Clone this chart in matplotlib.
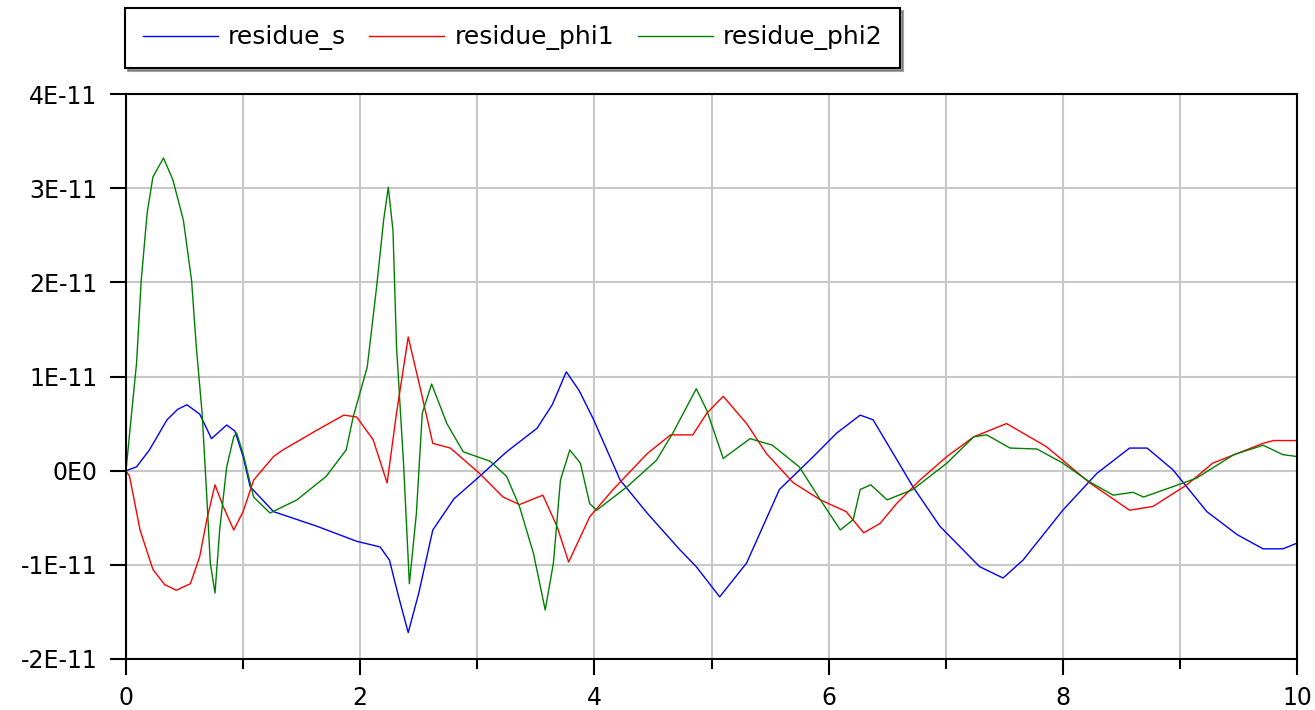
import numpy as np
import matplotlib
matplotlib.use("Agg")
import matplotlib.pyplot as plt

plt.rcParams['font.family'] = ['DejaVu Sans']

# residue_s (values in units of 1E-11)
t_s = [0, 0.09, 0.20, 0.35, 0.44, 0.52, 0.63, 0.73, 0.86, 0.93, 1.0, 1.06, 1.26, 1.63, 1.97,
       2.17, 2.25, 2.32, 2.41, 2.50, 2.62, 2.80, 3.02, 3.25, 3.51, 3.64, 3.76, 3.87, 3.99,
       4.22, 4.45, 4.73, 4.87, 5.07, 5.30, 5.58, 5.87, 6.07, 6.27, 6.38, 6.72, 6.95, 7.29,
       7.49, 7.66, 8.0, 8.29, 8.57, 8.72, 8.94, 9.23, 9.49, 9.71, 9.88, 10.0]
res_s = [0, 0.04, 0.22, 0.54, 0.65, 0.70, 0.60, 0.34, 0.485, 0.42, 0.15, -0.17, -0.435, -0.59, -0.75,
         -0.81, -0.95, -1.3, -1.72, -1.3, -0.63, -0.3, -0.06, 0.2, 0.45, 0.7, 1.05, 0.85, 0.55,
         -0.10, -0.45, -0.84, -1.02, -1.34, -0.98, -0.20, 0.15, 0.40, 0.59, 0.54, -0.17, -0.59, -1.02,
         -1.14, -0.95, -0.42, -0.03, 0.24, 0.24, 0.01, -0.435, -0.68, -0.83, -0.83, -0.77]

# residue_phi1
t_phi1 = [0, 0.03, 0.12, 0.23, 0.33, 0.43, 0.55, 0.63, 0.69, 0.76, 0.83, 0.92, 1.0, 1.09, 1.26,
          1.34, 1.63, 1.86, 1.97, 2.11, 2.23, 2.31, 2.41, 2.51, 2.62, 2.77, 3.02, 3.22, 3.36,
          3.56, 3.68, 3.78, 3.96, 4.16, 4.45, 4.65, 4.84, 4.96, 5.10, 5.30, 5.47, 5.70, 5.93,
          6.15, 6.30, 6.44, 6.58, 6.78, 7.01, 7.24, 7.52, 7.86, 8.23, 8.57, 8.77, 9.06, 9.28,
          9.71, 9.80, 10.0]
res_phi1 = [0, -0.06, -0.63, -1.05, -1.21, -1.27, -1.20, -0.91, -0.52, -0.15, -0.38, -0.63, -0.435, -0.10, 0.15,
            0.22, 0.43, 0.59, 0.57, 0.33, -0.13, 0.61, 1.42, 0.89, 0.29, 0.24, -0.03, -0.28, -0.36,
            -0.26, -0.59, -0.97, -0.49, -0.20, 0.18, 0.38, 0.38, 0.61, 0.79, 0.50, 0.18, -0.13, -0.31,
            -0.435, -0.66, -0.56, -0.35, -0.10, 0.15, 0.36, 0.50, 0.255, -0.13, -0.42, -0.38, -0.15, 0.08,
            0.29, 0.32, 0.32]

# residue_phi2
t_phi2 = [0, 0.05, 0.09, 0.13, 0.18, 0.23, 0.32, 0.40, 0.49, 0.56, 0.60, 0.65, 0.69, 0.72,
          0.76, 0.80, 0.86, 0.92, 0.945, 1.0, 1.09, 1.23, 1.46, 1.71, 1.88, 1.94, 2.06, 2.14,
          2.20, 2.24, 2.28, 2.31, 2.37, 2.42, 2.48, 2.53, 2.61, 2.74, 2.88, 3.11, 3.25, 3.36,
          3.48, 3.58, 3.65, 3.71, 3.79, 3.88, 3.96, 4.02, 4.28, 4.53, 4.67, 4.87, 4.96, 5.10,
          5.33, 5.52, 5.75, 5.93, 6.10, 6.21, 6.27, 6.36, 6.50, 6.72, 7.01, 7.24, 7.35, 7.55,
          7.78, 8.0, 8.23, 8.43, 8.60, 8.69, 8.94, 9.14, 9.46, 9.71, 9.88, 10.0]
res_phi2 = [0, 0.64, 1.14, 2.02, 2.73, 3.12, 3.32, 3.09, 2.66, 2.02, 1.32, 0.61, -0.28, -0.98,
            -1.30, -0.63, 0.04, 0.36, 0.40, 0.18, -0.28, -0.45, -0.31, -0.06, 0.22, 0.57, 1.10, 1.95,
            2.66, 3.01, 2.55, 1.32, 0.08, -1.20, -0.45, 0.61, 0.92, 0.50, 0.20, 0.10, -0.06, -0.38,
            -0.88, -1.48, -0.98, -0.10, 0.22, 0.08, -0.35, -0.42, -0.17, 0.11, 0.40, 0.87, 0.64, 0.13,
            0.34, 0.27, 0.04, -0.31, -0.63, -0.52, -0.20, -0.15, -0.31, -0.20, 0.08, 0.36, 0.38, 0.24,
            0.23, 0.08, -0.12, -0.26, -0.23, -0.28, -0.17, -0.08, 0.17, 0.27, 0.17, 0.15]

y_ticks = [-2, -1, 0, 1, 2, 3, 4]
y_labels = ['-2E-11', '-1E-11', '0E0', '1E-11', '2E-11', '3E-11', '4E-11']
x_ticks = [0, 2, 4, 6, 8, 10]

scale = 1e-11

fig = plt.figure(figsize=(13.15, 7.10), dpi=100)
ax = fig.add_axes([126 / 1315, 51 / 710, 1171 / 1315, 565 / 710])

ax.plot(t_s, np.array(res_s) * scale, color='#0000ff', lw=1.0, label='residue_s')
ax.plot(t_phi1, np.array(res_phi1) * scale, color='#ff0000', lw=1.0, label='residue_phi1')
ax.plot(t_phi2, np.array(res_phi2) * scale, color='#008000', lw=1.0, label='residue_phi2')

ax.set_xlim(0, 10)
ax.set_ylim(-2 * scale, 4 * scale)
ax.set_xticks(x_ticks)
ax.set_xticks(np.arange(0, 11, 1), minor=True)
ax.set_yticks(np.array(y_ticks) * scale)
ax.set_yticklabels(y_labels)

ax.grid(True, which='both', color='#c8c8c8', lw=1.5)
ax.set_axisbelow(True)
for sp in ax.spines.values():
    sp.set_color('black')
    sp.set_linewidth(1.5)

ax.tick_params(axis='both', which='major', direction='out', length=11.5, width=1.5,
               labelsize=17, pad=9, colors='black')
ax.tick_params(axis='x', which='minor', direction='out', length=7.5, width=1.5)
ax.tick_params(axis='x', which='major', pad=8)

leg = fig.legend(loc='upper left', bbox_to_anchor=(125 / 1315, 1 - 8 / 710), ncol=3,
                 fontsize=18, frameon=True, fancybox=False, shadow=True,
                 edgecolor='black', framealpha=1, handlelength=3.0, handletextpad=0.4,
                 columnspacing=0.95, borderpad=0.7, borderaxespad=0)
leg.get_frame().set_linewidth(1.5)

fig.savefig('out.png', dpi=100)
